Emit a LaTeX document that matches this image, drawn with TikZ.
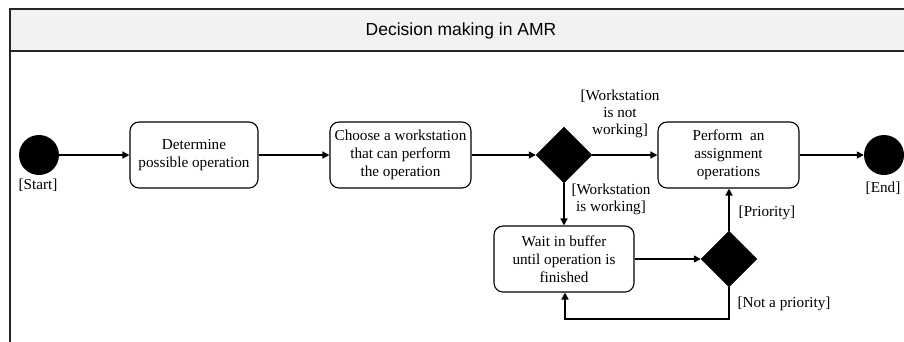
\documentclass[tikz,border=0pt]{standalone}
\usepackage{fontspec}
\setmainfont{Liberation Serif}
\setsansfont{Liberation Sans}
\usetikzlibrary{arrows.meta,shapes.geometric}
\begin{document}
\begin{tikzpicture}[x=1pt,y=-1pt,
  act/.style={draw,rounded corners=9pt,line width=1.1pt,align=center,inner sep=0pt,
    font=\fontsize{15.2}{18}\selectfont},
  dec/.style={diamond,fill=black,draw=black,minimum width=56pt,minimum height=56pt,inner sep=0pt},
  term/.style={circle,fill=black,minimum size=40pt,inner sep=0pt},
  lbl/.style={align=center,font=\fontsize{15.2}{17}\selectfont,inner sep=0pt},
  flow/.style={line width=1.5pt,-{Triangle[length=7pt,width=7pt]}}]
\useasboundingbox (0,0) rectangle (904,341);
% frame
\fill[gray!10] (10,9) rectangle (910,51);
\draw[line width=1.5pt,black!85] (10,345) -- (10,9) -- (910,9);
\draw[line width=1.5pt,black!85] (10,51) -- (910,51);
\node[font=\sffamily\fontsize{17.5}{20}\selectfont] (title) at (461,31) {Decision making in AMR};
% nodes
\node[term] (start) at (39,155) {};
\node[lbl,anchor=north] (startl) at (38,179) {[Start]};
\node[act,minimum width=128pt,minimum height=66pt] (b1) at (194,155) {Determine\\possible operation};
\node[act,minimum width=141pt,minimum height=66pt] (b2) at (400.5,155) {Choose a workstation\\that can perform\\the operation};
\node[dec] (d1) at (564,155) {};
\node[act,minimum width=141pt,minimum height=66pt] (b3) at (728.5,155) {Perform\ \ an\\assignment\\operations};
\node[term] (end) at (884,155) {};
\node[lbl,anchor=north] (endl) at (883,182) {[End]};
\node[act,minimum width=140pt,minimum height=66pt] (b4) at (564,259) {Wait in buffer\\until operation is\\finished};
\node[dec] (d2) at (729,259) {};
% labels
\node[lbl] (l1) at (620,114) {[Workstation\\is not\\working]};
\node[lbl] (l2) at (611,199) {[Workstation\\is working]};
\node[lbl] (l3) at (767,213) {[Priority]};
\node[lbl] (l4) at (784,304) {[Not a priority]};
\coordinate (c1) at (729,319);
\coordinate (c2) at (565,319);
% connectors
\draw[flow] (start) -- (b1);
\draw[flow] (b1) -- (b2);
\draw[flow] (b2.east) -- (d1.west);
\draw[flow] (d1.east) -- (b3.west |- d1.east);
\draw[flow] (b3) -- (end);
\draw[flow] (d1.south) -- (b4.north -| d1.south);
\draw[flow] (b4.east |- d2.west) -- (d2.west);
\draw[flow] (d2.north) -- (b3.south -| d2.north);
\draw[flow] (d2.south) -- (c1) -- (c2) -- (b4.south -| c2);
\end{tikzpicture}
\end{document}
